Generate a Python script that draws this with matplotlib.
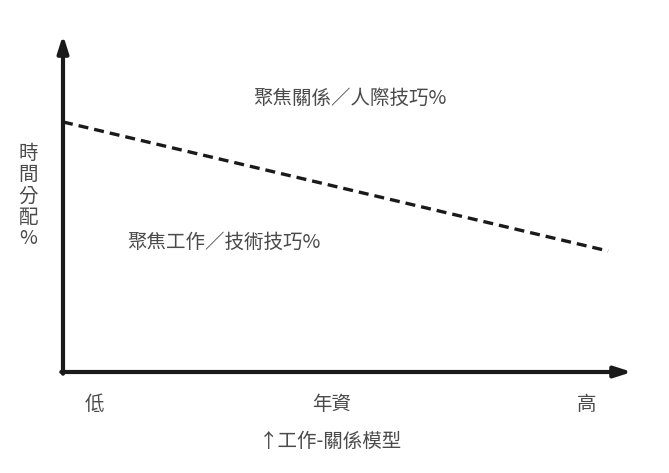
import matplotlib
matplotlib.use("Agg")
import matplotlib.pyplot as plt

plt.rcParams['font.family'] = ['Noto Sans CJK TC', 'DejaVu Sans']

# 年資 (0=低, 100=高) vs 時間分配 %
seniority = [0, 95.8]
work_share = [74.2, 35.9]   # 虛線：工作技巧所佔比例

x_labels = ['低', '年資', '高']
x_label_pos = [5.6, 47.2, 92.0]
upper_text = '聚焦關係／人際技巧%'
lower_text = '聚焦工作／技術技巧%'
y_text = '時\n間\n分\n配\n%'
caption = '↑工作-關係模型'

W, H = 669, 473
fig = plt.figure(figsize=(W / 100, H / 100), dpi=100)
ax = fig.add_axes([63 / W, (H - 372) / H, (632 - 63) / W, (372 - 35) / H])
ax.set_xlim(0, 100)
ax.set_ylim(0, 100)
ax.axis('off')

txt = '#4a4a4a'
fs = 14

# 座標軸箭頭
arrow = dict(arrowstyle='-|>,head_length=1.0,head_width=0.32', color='#1a1a1a', lw=3,
             shrinkA=0, shrinkB=0)
ax.annotate('', xy=(0, 100), xytext=(0, -0.5), arrowprops=arrow, annotation_clip=False)
ax.annotate('', xy=(100, 0), xytext=(-0.3, 0), arrowprops=arrow, annotation_clip=False)

ax.plot(seniority, work_share, ls=(0, (3, 1.8)), color='#1a1a1a', lw=2.4)

ax.text(50.5, 81.3, upper_text, ha='center', va='center', fontsize=fs, color=txt, weight='light')
ax.text(28.3, 38.5, lower_text, ha='center', va='center', fontsize=fs, color=txt, weight='light')

for p, s in zip(x_label_pos, x_labels):
    ax.text(p, -9.5, s, ha='center', va='center', fontsize=fs, color=txt, weight='light',
            clip_on=False)

fig.text(28 / W, 1 - 196 / H, y_text, ha='center', va='center', fontsize=fs,
         color=txt, linespacing=1.02, weight='light')
fig.text(330 / W, 1 - 441 / H, caption, ha='center', va='center', fontsize=fs, color=txt,
         weight='light')

fig.savefig('out.png', dpi=100)
